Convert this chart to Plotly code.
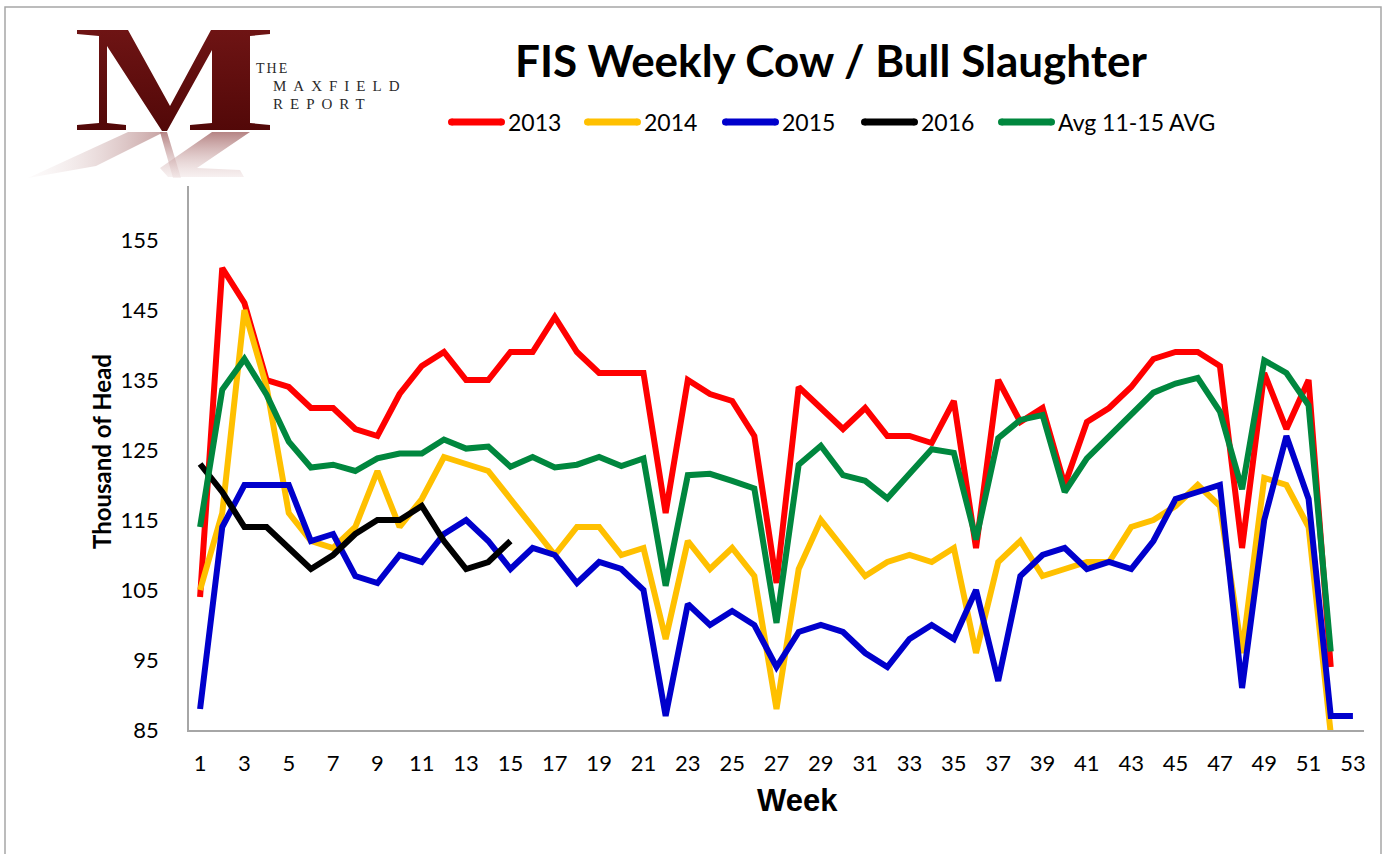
import base64
import plotly.graph_objects as go

# ---------------- data ----------------
weeks = list(range(1, 54))
s2013 = [104, 151, 146, 135, 134, 131, 131, 128, 127, 133,
         137, 139, 135, 135, 139, 139, 144, 139, 136, 136,
         136, 116, 135, 133, 132, 127, 106, 134, 131, 128,
         131, 127, 127, 126, 132, 111, 135, 129, 131, 120,
         129, 131, 134, 138, 139, 139, 137, 111, 136, 128,
         135, 94]
s2014 = [105, 116, 145, 134, 116, 112, 111, 114, 122, 114,
         118, 124, 123, 122, 118, 114, 110, 114, 114, 110,
         111, 98, 112, 108, 111, 107, 88, 108, 115, 111,
         107, 109, 110, 109, 111, 96, 109, 112, 107, 108,
         109, 109, 114, 115, 117, 120, 117, 96, 121, 120,
         114, 84.5]
s2015 = [88, 114, 120, 120, 120, 112, 113, 107, 106, 110,
         109, 113, 115, 112, 108, 111, 110, 106, 109, 108,
         105, 87, 103, 100, 102, 100, 94, 99, 100, 99,
         96, 94, 98, 100, 98, 105, 92, 107, 110, 111,
         108, 109, 108, 112, 118, 119, 120, 91, 115, 127,
         118, 87, 87]
s2016 = [123, 119, 114, 114, 111, 108, 110, 113, 115, 115,
         117, 112, 108, 109, 112]
avg_11_15 = [114, 133.6, 138, 132.9, 126.2, 122.5, 122.9, 122, 123.8, 124.5,
             124.5, 126.5, 125.2, 125.5, 122.6, 124, 122.5, 122.9, 124, 122.7,
             123.8, 105.6, 121.4, 121.6, 120.6, 119.5, 100.3, 122.9, 125.6, 121.4,
             120.6, 118.1, 121.6, 125.1, 124.6, 112.2, 126.7, 129.3, 130, 119,
             123.8, 126.9, 130.1, 133.2, 134.5, 135.3, 130.5, 119.4, 137.8, 136,
             131.4, 96.2]

series_names = ["2013", "2014", "2015", "2016", "Avg 11-15 AVG"]
series_values = [s2013, s2014, s2015, s2016, avg_11_15]
series_colors = ["#FF0000", "#FFC000", "#0000CC", "#000000", "#00873E"]

x_tick_vals = list(range(1, 54, 2))
y_tick_vals = [85, 95, 105, 115, 125, 135, 145, 155]

title_text = "FIS Weekly Cow / Bull Slaughter"
x_title = "Week"
y_title = "Thousand of Head"
logo_words = ["THE", "MAXFIELD", "REPORT"]

# ---------------- layout geometry (pixels) ----------------
W, H = 1389, 854
ML, MR, MT, MB = 189, 25, 170, 124
PW = W - ML - MR
PH = H - MT - MB


def px(x):
    return (x - ML) / PW


def py(y):
    return (H - MB - y) / PH


FONT = "Lato, 'Open Sans', sans-serif"

fig = go.Figure()
for name, vals, col in zip(series_names, series_values, series_colors):
    fig.add_trace(go.Scatter(
        x=weeks[:len(vals)], y=vals, mode="lines", name=name,
        line=dict(color=col, width=6), showlegend=False,
    ))

shapes = []
annotations = []

# outer chart border
shapes.append(dict(type="rect", xref="paper", yref="paper",
                   x0=px(5), x1=px(1381), y0=py(900), y1=py(7),
                   line=dict(color="#A6A6A6", width=1.5), layer="below"))

# custom legend
leg_line_x = [448, 584, 722, 861, 998]
leg_y = 122
for lx, name, col in zip(leg_line_x, series_names, series_colors):
    shapes.append(dict(type="line", xref="paper", yref="paper",
                       x0=px(lx + 3.5), x1=px(lx + 53.5), y0=py(leg_y), y1=py(leg_y),
                       line=dict(color=col, width=7)))
    for cx in (lx + 3.5, lx + 53.5):
        shapes.append(dict(type="circle", xref="paper", yref="paper",
                           x0=px(cx - 3.5), x1=px(cx + 3.5),
                           y0=py(leg_y + 3.5), y1=py(leg_y - 3.5),
                           fillcolor=col, line=dict(width=0)))
    annotations.append(dict(text=name, xref="paper", yref="paper",
                            x=px(lx + 58), y=py(leg_y), xanchor="left", yanchor="middle",
                            showarrow=False, font=dict(family=FONT, size=23, color="#000000")))

# axis titles
annotations.append(dict(text="<b>%s</b>" % y_title, xref="paper", yref="paper",
                        x=px(101), y=py(452), xanchor="center", yanchor="middle",
                        textangle=-90, showarrow=False,
                        font=dict(family=FONT, size=24, color="#000000")))
annotations.append(dict(text="<b>%s</b>" % x_title, xref="paper", yref="paper",
                        x=px(797), y=py(800), xanchor="center", yanchor="middle",
                        showarrow=False,
                        font=dict(family="'Liberation Sans', Arial, sans-serif", size=31, color="#000000")))

# logo text
annotations.append(dict(text='<span style="letter-spacing:2px">%s</span>' % logo_words[0],
                        xref="paper", yref="paper",
                        x=px(254), y=py(69), xanchor="left", yanchor="middle", showarrow=False,
                        font=dict(family="'Liberation Serif', serif", size=14, color="#2a2a2a")))
annotations.append(dict(text='<span style="letter-spacing:7px">%s</span>' % logo_words[1],
                        xref="paper", yref="paper",
                        x=px(271), y=py(86), xanchor="left", yanchor="middle", showarrow=False,
                        font=dict(family="'Liberation Serif', serif", size=15, color="#2a2a2a")))
annotations.append(dict(text='<span style="letter-spacing:7px">%s</span>' % logo_words[2],
                        xref="paper", yref="paper",
                        x=px(271), y=py(104), xanchor="left", yanchor="middle", showarrow=False,
                        font=dict(family="'Liberation Serif', serif", size=15, color="#2a2a2a")))

# logo graphic (M with reflection)
svg = """<svg xmlns='http://www.w3.org/2000/svg' width='300' height='190' viewBox='0 0 300 190'>
<defs>
<linearGradient id='mg' x1='0' y1='0' x2='0' y2='1'>
<stop offset='0' stop-color='#6E1414'/><stop offset='1' stop-color='#520808'/></linearGradient>
<linearGradient id='rg' x1='0' y1='0' x2='0' y2='1'>
<stop offset='0' stop-color='#A86E6E' stop-opacity='0.85'/><stop offset='1' stop-color='#E8D4D4' stop-opacity='0.35'/></linearGradient>
<linearGradient id='lg' x1='1' y1='0' x2='0' y2='0'>
<stop offset='0' stop-color='#B88A8A' stop-opacity='0.8'/><stop offset='1' stop-color='#F4ECEC' stop-opacity='0.2'/></linearGradient>
</defs>
<rect x='183' y='160' width='14' height='26' fill='#FFFFFF'/>
<path fill='url(#mg)' d='M77 30 L128 30 L170 106 L211 30 L270 30 L270 34 L250 36 L250 123 L270 125 L270 130 L190 130 L190 125 L212 123 L212 50 L167 131 L162 131 L107 46 L107 123 L126 125 L126 130 L77 130 L77 125 L99 123 L99 36 L77 34 Z'/>
<path fill='url(#lg)' d='M128 132 L164 132 L96 166 L28 178 Z'/>
<path fill='url(#rg)' d='M160 132 L167 132 L181 178 L173 178 Z'/>
<path fill='url(#rg)' d='M212 132 L250 132 L197 168 L240 170 L244 177 L168 177 L160 168 Z'/>
</svg>"""
logo_src = "data:image/svg+xml;base64," + base64.b64encode(svg.encode()).decode()

fig.update_layout(
    width=W, height=H,
    margin=dict(l=ML, r=MR, t=MT, b=MB),
    paper_bgcolor="#FFFFFF", plot_bgcolor="#FFFFFF",
    title=dict(text="<b>%s</b>" % title_text, x=831 / W, xanchor="center",
               y=1 - 62 / H, yanchor="middle",
               font=dict(family=FONT, size=44, color="#000000")),
    xaxis=dict(range=[0.5, 53.5], tickmode="array", tickvals=x_tick_vals,
               showgrid=False, zeroline=False, showline=True, linecolor="#A6A6A6", linewidth=1.5,
               ticks="", ticklabelstandoff=13,
               tickfont=dict(family=FONT, size=22, color="#000000")),
    yaxis=dict(range=[85, 165], tickmode="array", tickvals=y_tick_vals,
               showgrid=False, zeroline=False, showline=True, linecolor="#A6A6A6", linewidth=1.5,
               ticks="", ticklabelstandoff=24,
               tickfont=dict(family=FONT, size=22, color="#000000")),
    shapes=shapes,
    annotations=annotations,
    images=[dict(source=logo_src, xref="paper", yref="paper",
                 x=px(0), y=py(0), sizex=300 / PW, sizey=190 / PH,
                 xanchor="left", yanchor="top", sizing="stretch", layer="above")],
    showlegend=False,
)

fig.write_html("out.html", config={"displayModeBar": False},
               post_script="document.body.style.margin='0px';")
